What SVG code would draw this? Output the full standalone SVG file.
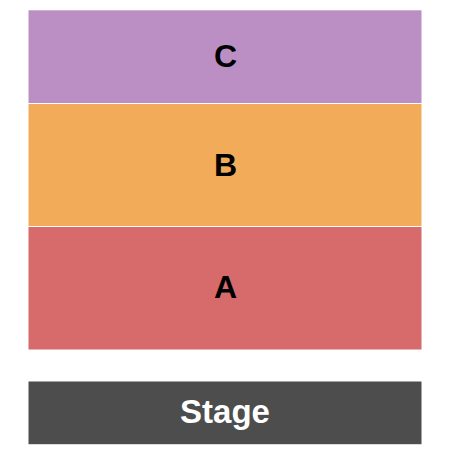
<svg xmlns="http://www.w3.org/2000/svg" width="450" height="450" viewBox="0 0 450 450">
<style>
.sec{stroke:none}
.lbl{font-family:"Liberation Sans",Arial,sans-serif;font-weight:bold;font-size:32px;text-anchor:middle;fill:#000}
.stg{font-family:"Liberation Sans",Arial,sans-serif;font-weight:bold;font-size:33px;text-anchor:middle;fill:#fff}
</style>
<rect width="450" height="450" fill="#fff"/>
<g id="section-C">
<rect class="sec" x="28.5" y="10.3" width="393" height="92.7" fill="#bb8fc3"/>
<text class="lbl" x="225.5" y="67">C</text>
</g>
<g id="section-B">
<rect class="sec" x="28.5" y="104" width="393" height="122" fill="#f2ab58"/>
<text class="lbl" x="225.5" y="176">B</text>
</g>
<g id="section-A">
<rect class="sec" x="28.5" y="227" width="393" height="122.5" fill="#d76b6b"/>
<text class="lbl" x="225.5" y="298">A</text>
</g>
<g id="stage">
<rect class="sec" x="28.5" y="381.5" width="393" height="62.7" fill="#4d4d4d"/>
<text class="stg" x="225" y="423">Stage</text>
</g>
<g id="connectors"/>
</svg>
